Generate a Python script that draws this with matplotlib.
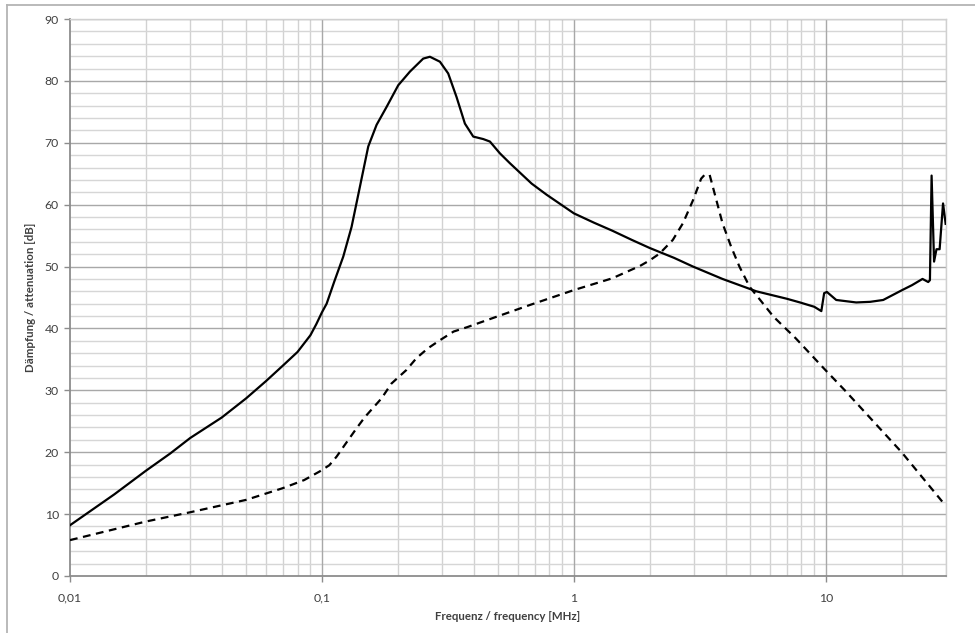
import matplotlib
matplotlib.use("Agg")
import matplotlib.pyplot as plt
from matplotlib.lines import Line2D
from matplotlib.ticker import FixedLocator, FixedFormatter, NullFormatter

plt.rcParams['font.family'] = ['Lato', 'DejaVu Sans']

# ---- data ----
solid_f = [0.01, 0.015, 0.02, 0.025, 0.03, 0.04, 0.05, 0.06, 0.07, 0.08, 0.09,
           0.095, 0.1, 0.1044, 0.112, 0.1215, 0.1311, 0.1415, 0.1527, 0.1648, 0.1806,
           0.2009, 0.2235, 0.2523, 0.2683, 0.294, 0.3171, 0.3422, 0.3694,
           0.3987, 0.4368, 0.4642, 0.5085, 0.5572, 0.68, 0.78, 1.0, 1.2, 1.42,
           1.7, 2.0, 2.5, 2.97, 3.89, 5.3, 7.0, 7.9, 9.0,
           9.6, 9.85, 10.1, 11.0, 13.2, 15.0, 16.9, 20.1, 22.0, 24.2, 25.5,
           25.9, 26.3, 26.9, 27.5, 28.3, 29.2, 29.9]
solid_db = [8.2, 13.2, 17.0, 19.8, 22.3, 25.6, 28.7, 31.5, 34.0, 36.2, 38.9,
            40.7, 42.6, 44.0, 47.6, 51.6, 56.4, 62.9, 69.4, 72.9, 75.8,
            79.3, 81.5, 83.6, 83.9, 83.1, 81.2, 77.4, 73.1,
            71.0, 70.6, 70.2, 68.3, 66.7, 63.4, 61.6, 58.6, 57.1, 55.8,
            54.3, 53.0, 51.4, 50.0, 48.0, 46.0, 44.8, 44.2, 43.5,
            42.8, 45.7, 45.9, 44.6, 44.2, 44.3, 44.6, 46.2, 47.0, 48.0, 47.5,
            47.8, 64.7, 50.8, 52.8, 52.8, 60.2, 56.9]

dash_f = [0.01, 0.02, 0.03, 0.05, 0.07, 0.085, 0.098, 0.107, 0.1144, 0.1233,
          0.1374, 0.1482, 0.1724, 0.1888, 0.2166, 0.2372, 0.2636, 0.294,
          0.3332, 0.3767, 0.4487, 0.67, 1.0, 1.42, 1.83, 2.0, 2.19, 2.47, 2.71,
          2.97, 3.2, 3.3, 3.46, 3.62, 3.89, 4.21, 4.54, 4.99, 5.49, 6.2, 7.6,
          9.9, 11.9, 20.0, 29.7]
dash_db = [5.8, 8.8, 10.3, 12.3, 14.2, 15.5, 16.9, 17.9, 19.3, 21.2,
           23.9, 25.7, 28.7, 31.1, 33.3, 35.2, 36.8, 38.1,
           39.5, 40.2, 41.3, 43.8, 46.2, 48.1, 50.1, 51.0, 52.1, 54.3, 57.0,
           60.7, 64.2, 64.8, 64.8, 61.8, 57.0, 53.2, 50.0, 46.7, 44.6, 41.9, 38.4,
           33.4, 30.0, 20.0, 11.5]

x_ticks = [0.01, 0.1, 1, 10]
x_tick_labels = ["0,01", "0,1", "1", "10"]
y_ticks = [0, 10, 20, 30, 40, 50, 60, 70, 80, 90]

# ---- figure ----
fig = plt.figure(figsize=(9.75, 6.33), dpi=100)
ax = fig.add_axes([70/975, 57/633, 876/975, 557/633])

ax.set_xscale('log')
ax.set_xlim(0.01, 30)
ax.set_ylim(0, 90)

minor_x = [m * d for d in (0.01, 0.1, 1, 10) for m in range(2, 10) if m * d <= 30]
minor_y = [v for v in range(0, 91, 2) if v % 10 != 0]

for v in minor_x:
    ax.axvline(v, color='#d2d2d2', lw=1.0, zorder=1)
for v in minor_y:
    ax.axhline(v, color='#d6d6d6', lw=1.0, zorder=1)
for v in x_ticks[1:]:
    ax.axvline(v, color='#a8a8a8', lw=1.0, zorder=1.5)
for v in y_ticks[1:]:
    ax.axhline(v, color='#a8a8a8', lw=1.0, zorder=1.5)

ax.plot(solid_f, solid_db, color='black', lw=1.6, zorder=3,
        solid_joinstyle='round')
ax.plot(dash_f, dash_db, color='black', lw=1.6, zorder=3,
        linestyle=(0, (3.5, 2.5)))

ax.xaxis.set_major_locator(FixedLocator(x_ticks))
ax.xaxis.set_major_formatter(FixedFormatter(x_tick_labels))
ax.xaxis.set_minor_locator(FixedLocator([]))
ax.xaxis.set_minor_formatter(NullFormatter())
ax.set_yticks(y_ticks)
ax.set_yticklabels([str(v) for v in y_ticks])

for s in ('top', 'right'):
    ax.spines[s].set_color('#d0d0d0')
    ax.spines[s].set_linewidth(1.0)
for s in ('left', 'bottom'):
    ax.spines[s].set_color('#8c8c8c')
    ax.spines[s].set_linewidth(1.3)

ax.tick_params(axis='both', which='major', length=4, width=1.0,
               color='#8c8c8c', labelsize=8.8, labelcolor='#404040', pad=4)
ax.tick_params(axis='x', pad=8)

ax.set_xlabel("Frequenz / frequency [MHz]", fontsize=8.3, fontweight='bold',
              color='#404040', labelpad=5)
ax.set_ylabel("Dämpfung / attenuation [dB]", fontsize=8.3, fontweight='bold',
              color='#404040', labelpad=6)

# outer chart border (only top and left visible in the reference)
fig.add_artist(Line2D([7/975, 1.0], [1 - 5/633, 1 - 5/633],
                      transform=fig.transFigure, color='#b4b4b4', lw=1.3))
fig.add_artist(Line2D([7/975, 7/975], [0.0, 1 - 5/633],
                      transform=fig.transFigure, color='#b4b4b4', lw=1.3))

fig.savefig("out.png", dpi=100)
